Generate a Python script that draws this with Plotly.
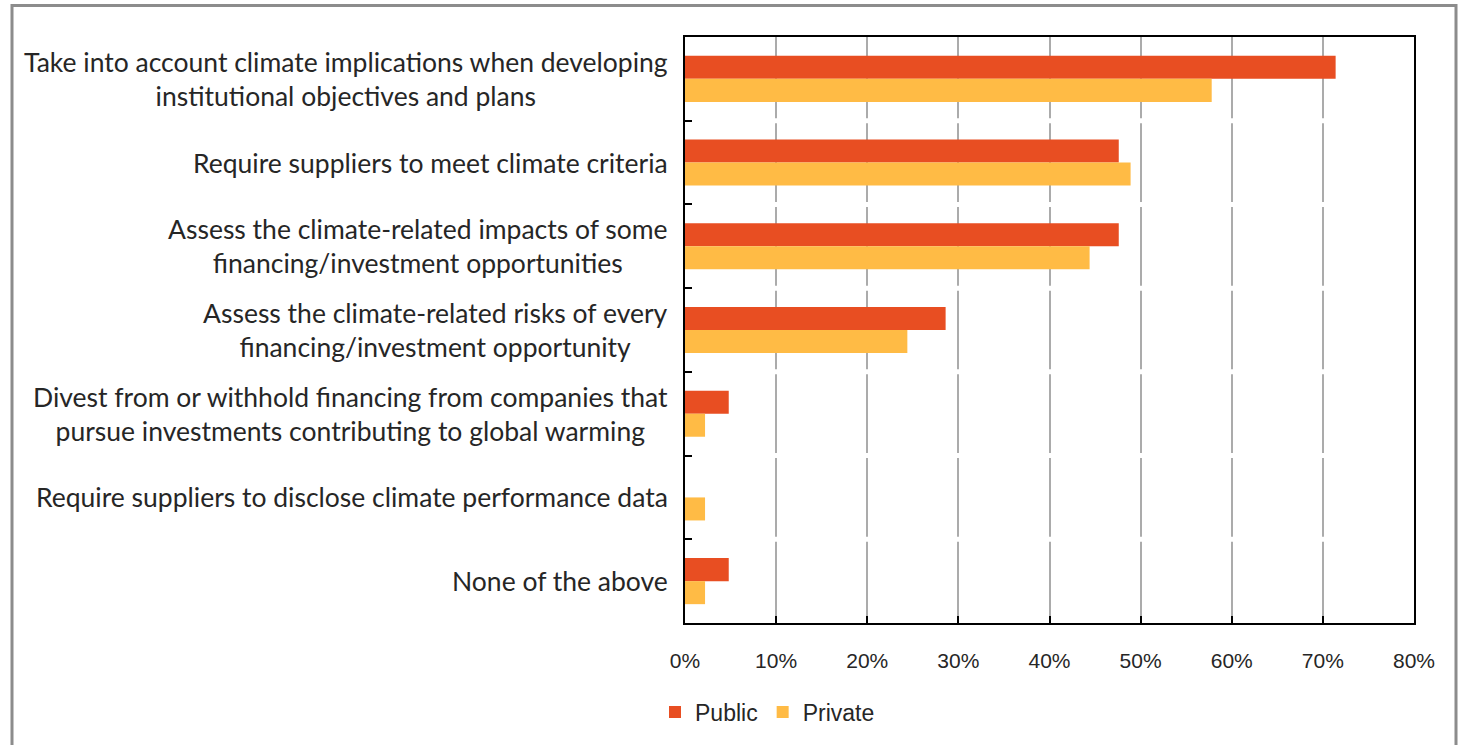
import plotly.graph_objects as go

categories = [
    "Take into account climate implications when developing<br>institutional objectives and plans",
    "Require suppliers to meet climate criteria",
    "Assess the climate-related impacts of some<br>financing/investment opportunities",
    "Assess the climate-related risks of every<br>financing/investment opportunity",
    "Divest from or withhold financing from companies that<br>pursue investments contributing to global warming",
    "Require suppliers to disclose climate performance data",
    "None of the above",
]
public = [0.714, 0.476, 0.476, 0.286, 0.048, 0.0, 0.048]
private = [0.578, 0.489, 0.444, 0.244, 0.022, 0.022, 0.022]
x_ticks = [0, 0.1, 0.2, 0.3, 0.4, 0.5, 0.6, 0.7, 0.8]
x_tick_labels = ["0%", "10%", "20%", "30%", "40%", "50%", "60%", "70%", "80%"]

PUBLIC_COLOR = "#E84E22"
PRIVATE_COLOR = "#FFBB45"
LABEL_FONT = "Lato, Calibri, Carlito, sans-serif"
NARROW_FONT = "Liberation Sans Narrow, Arial Narrow, Liberation Sans, sans-serif"

fig = go.Figure()
fig.add_trace(go.Bar(y=categories, x=public, name="Public", orientation="h",
                     marker=dict(color=PUBLIC_COLOR, line=dict(width=0))))
fig.add_trace(go.Bar(y=categories, x=private, name="Private", orientation="h",
                     marker=dict(color=PRIVATE_COLOR, line=dict(width=0))))

L, R, T, B = 685, 46, 37, 115
W, H = 1460, 745
pw = W - L - R
ph = H - T - B

# category labels, centered multi-line text right-aligned to axis
for c in categories:
    fig.add_annotation(x=0, xref="paper", y=c, yref="y", text=c, showarrow=False,
                       xanchor="right", yanchor="middle", align="center", xshift=-15,
                       font=dict(family=LABEL_FONT, size=26.5, color="#262626"))

# white separators to create gaps in gridlines at category boundaries
for k in range(1, len(categories)):
    fig.add_shape(type="line", xref="paper", x0=12 / pw, x1=1 - 3 / pw, yref="y",
                  y0=k - 0.5, y1=k - 0.5,
                  line=dict(color="white", width=5), layer="above")

# outer frame
fig.add_shape(type="rect", xref="paper", yref="paper",
              x0=(12 - L) / pw, x1=(1456 - L) / pw,
              y0=-0.5, y1=1 + (T - 5) / ph,
              line=dict(color="#8C8C8C", width=3), fillcolor="rgba(0,0,0,0)")

fig.update_layout(
    width=W, height=H,
    margin=dict(l=L, r=R, t=T, b=B),
    paper_bgcolor="white", plot_bgcolor="white",
    barmode="group", bargap=0.45, bargroupgap=0,
    showlegend=True,
    legend=dict(orientation="h", x=(655 - L) / pw, y=(H - B - 720) / ph, xanchor="left",
                yanchor="middle", font=dict(family=NARROW_FONT, size=23, color="#262626"),
                itemwidth=30, tracegroupgap=0),
    xaxis=dict(range=[0, 0.8], tickvals=x_ticks, ticktext=x_tick_labels,
               showgrid=True, gridcolor="#ABABAB", gridwidth=2,
               showline=True, linecolor="black", linewidth=2, mirror=True,
               ticks="inside", ticklen=7, tickwidth=2, tickcolor="black",
               ticklabelstandoff=18, zeroline=False,
               tickfont=dict(family=NARROW_FONT, size=21, color="#262626")),
    yaxis=dict(autorange="reversed", showticklabels=False,
               showline=True, linecolor="black", linewidth=2, mirror=True,
               ticks="inside", ticklen=7, tickwidth=2, tickcolor="black",
               tickson="boundaries", showgrid=False, zeroline=False),
)

fig.write_html("out.html", config={"displayModeBar": False},
               post_script="document.body.style.margin='0px';")
